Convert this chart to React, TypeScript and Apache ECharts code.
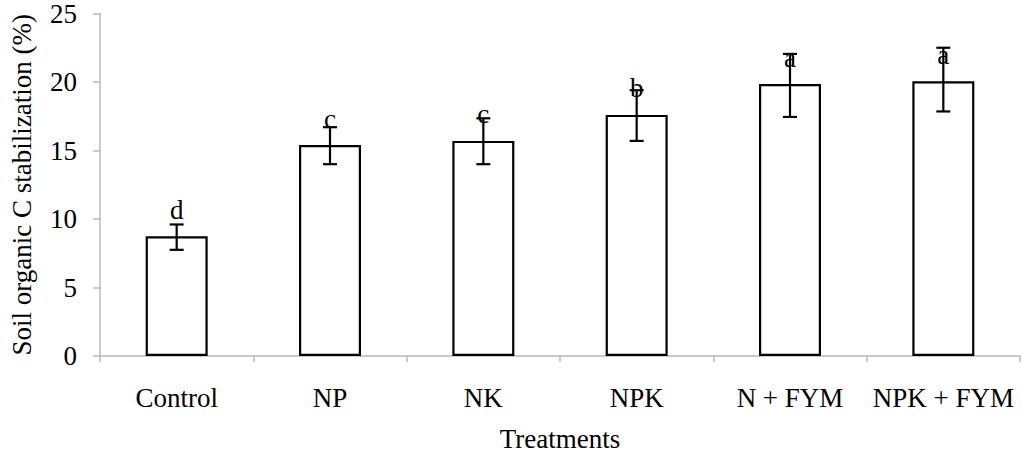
import React, { useEffect, useRef } from "react";
import * as echarts from "echarts";

const categories = ["Control", "NP", "NK", "NPK", "N + FYM", "NPK + FYM"];
const means = [8.74, 15.4, 15.7, 17.6, 19.85, 20.05];
const errLow = [7.75, 14.0, 14.0, 15.7, 17.45, 17.85];
const errHigh = [9.6, 16.7, 17.35, 19.4, 22.05, 22.5];
const letters = ["d", "c", "c", "b", "a", "a"];
const yTicks = { min: 0, max: 25, interval: 5 };

const FONT = "'Liberation Serif', 'Times New Roman', serif";

export default function App() {
  const ref = useRef<HTMLDivElement>(null);
  useEffect(() => {
    if (!ref.current) return;
    const chart = echarts.init(ref.current, null, { renderer: "svg" });
    const errData = categories.map((_, i) => [i, errLow[i], errHigh[i]]);
    chart.setOption({
      animation: false,
      backgroundColor: "#ffffff",
      textStyle: { fontFamily: FONT, color: "#000" },
      grid: { left: 93, right: 4, top: 12, bottom: 103, containLabel: false },
      xAxis: {
        type: "category",
        data: categories,
        axisLine: { lineStyle: { color: "#b8b8b8", width: 1.5 } },
        axisTick: { show: true, length: 6, lineStyle: { color: "#b8b8b8", width: 1.5 } },
        axisLabel: { color: "#000", fontSize: 27, fontFamily: FONT, margin: 28, interval: 0 },
        name: "Treatments",
        nameLocation: "middle",
        nameGap: 69,
        nameTextStyle: { color: "#000", fontSize: 27, fontFamily: FONT },
      },
      yAxis: {
        type: "value",
        min: yTicks.min,
        max: yTicks.max,
        interval: yTicks.interval,
        splitLine: { show: false },
        axisLine: { show: true, lineStyle: { color: "#b8b8b8", width: 1.5 } },
        axisTick: { show: true, length: 7, lineStyle: { color: "#b8b8b8", width: 1.5 } },
        axisLabel: { color: "#000", fontSize: 27, fontFamily: FONT, margin: 23 },
        name: "Soil organic C stabilization (%)",
        nameLocation: "middle",
        nameGap: 65,
        nameRotate: 90,
        nameTextStyle: { color: "#000", fontSize: 27, fontFamily: FONT },
      },
      series: [
        {
          type: "bar",
          data: means,
          barWidth: 62,
          itemStyle: { color: "#ffffff", borderColor: "#000", borderWidth: 2.2 },
          label: {
            show: true,
            position: "top",
            distance: 13,
            formatter: (p: any) => letters[p.dataIndex],
            color: "#000",
            fontSize: 27,
            fontFamily: FONT,
          },
          z: 2,
        },
        {
          type: "custom",
          data: errData,
          z: 3,
          renderItem: (params: any, api: any) => {
            const x = api.value(0);
            const lo = api.coord([x, api.value(1)]);
            const hi = api.coord([x, api.value(2)]);
            const cap = 7;
            const style = { stroke: "#000", lineWidth: 2.2 };
            return {
              type: "group",
              children: [
                { type: "line", shape: { x1: hi[0], y1: hi[1], x2: lo[0], y2: lo[1] }, style },
                { type: "line", shape: { x1: hi[0] - cap, y1: hi[1], x2: hi[0] + cap, y2: hi[1] }, style },
                { type: "line", shape: { x1: lo[0] - cap, y1: lo[1], x2: lo[0] + cap, y2: lo[1] }, style },
              ],
            };
          },
        },
      ],
    });
    return () => chart.dispose();
  }, []);
  return (
    <div
      ref={ref}
      style={{ position: "fixed", left: 0, top: 0, width: 1024, height: 459, background: "#fff" }}
    />
  );
}
